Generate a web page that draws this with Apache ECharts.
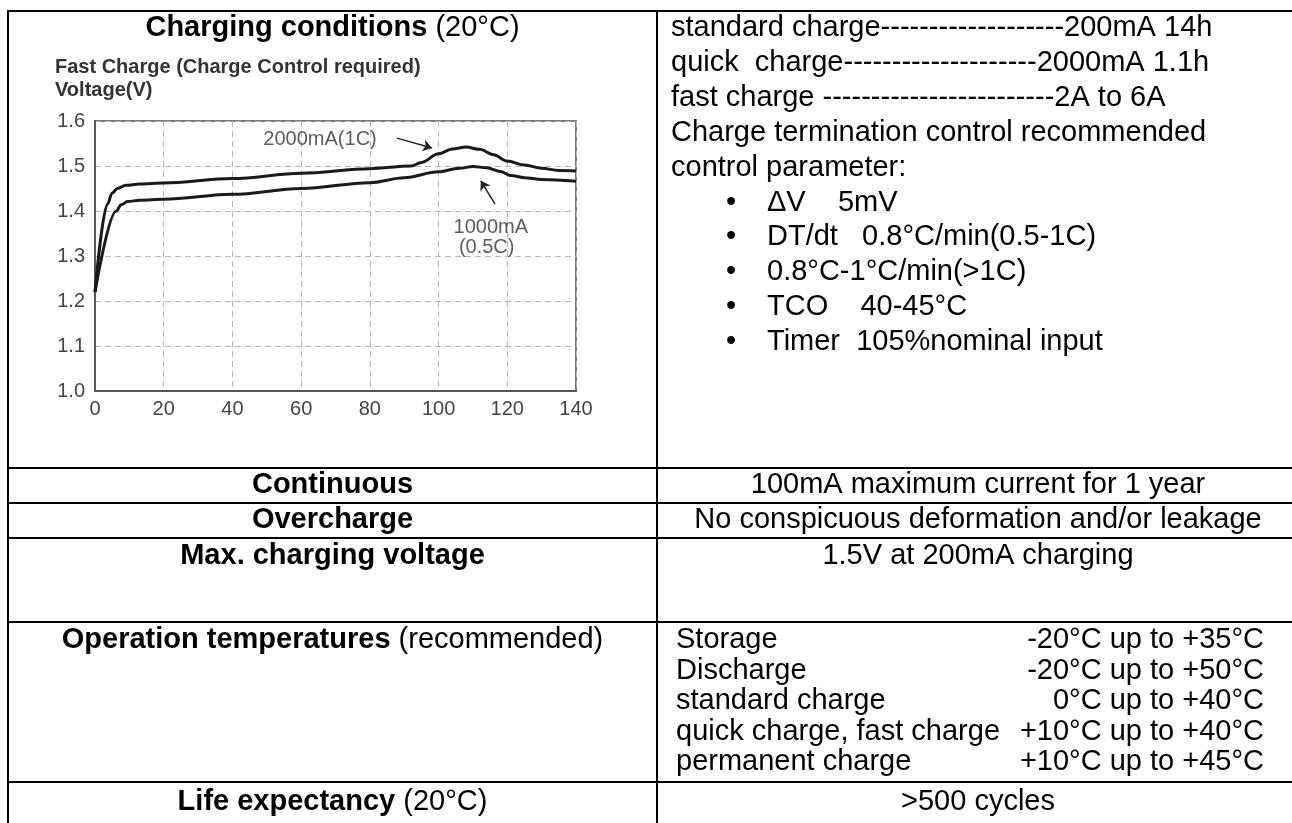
<!DOCTYPE html>
<html>
<head>
<meta charset="utf-8">
<script src="https://cdn.jsdelivr.net/npm/echarts@6/dist/echarts.min.js"></script>
<style>
html, body { margin: 0; padding: 0; background: #fff; }
#main { width: 1292px; height: 823px; }
</style>
</head>
<body>
<div id="main"></div>
<script>
//曲线数据 2000mA(1C)
var fastX = [0, 3.6, 5, 6.5, 9, 13, 20, 40, 60, 80, 92, 95, 100, 104, 108, 112, 116, 120, 125, 130, 135, 140];
var fastY = [1.22, 1.415, 1.44, 1.45, 1.457, 1.46, 1.462, 1.472, 1.484, 1.494, 1.50, 1.508, 1.527, 1.538, 1.542, 1.537, 1.525, 1.511, 1.502, 1.495, 1.49, 1.489];
//曲线数据 1000mA(0.5C)
var halfX = [0, 6.2, 7.6, 9.5, 13, 20, 40, 60, 80, 90, 100, 106, 110, 114, 118, 121, 125, 130, 140];
var halfY = [1.22, 1.40, 1.414, 1.421, 1.424, 1.426, 1.437, 1.45, 1.463, 1.474, 1.487, 1.495, 1.499, 1.496, 1.488, 1.479, 1.474, 1.47, 1.466];
//标注
var noteText = ['2000mA(1C)', '1000mA', '(0.5C)'];
var noteX = [65.5, 115.2, 114];
var noteY = [1.558, 1.364, 1.32];
var arrowFrom = [[87.9, 1.562], [116.4, 1.416]];
var arrowTo = [[98.1, 1.54], [112.3, 1.467]];

//表格文字
var specLines = [
    'standard charge-------------------200mA 14h',
    'quick  charge--------------------2000mA 1.1h',
    'fast charge ------------------------2A to 6A',
    'Charge termination control recommended',
    'control parameter:'
];
var bulletLines = ['\u0394V    5mV', 'DT/dt   0.8°C/min(0.5-1C)', '0.8°C-1°C/min(>1C)', 'TCO    40-45°C', 'Timer  105%nominal input'];
var rowNames = ['Continuous', 'Overcharge', 'Max. charging voltage'];
var rowValues = ['100mA maximum current for 1 year', 'No conspicuous deformation and/or leakage', '1.5V at 200mA charging'];
var tempNames = ['Storage', 'Discharge', 'standard charge', 'quick charge, fast charge', 'permanent charge'];
var tempRanges = ['-20°C up to +35°C', '-20°C up to +50°C', '0°C up to +40°C', '+10°C up to +40°C', '+10°C up to +45°C'];

var FONT = "'Liberation Sans', Arial, sans-serif";

function pairs(xs, ys) {
    return xs.map(function (x, i) { return [x, ys[i]]; });
}

function txt(text, x, y, opt) {
    opt = opt || {};
    return {
        type: 'text',
        silent: true,
        style: {
            text: text,
            x: x,
            y: y,
            fill: '#000',
            fontFamily: FONT,
            fontSize: opt.size || 29,
            fontWeight: opt.weight || 'normal',
            align: opt.align || 'left',
            textAlign: opt.align || 'left',
            verticalAlign: 'middle',
            textVerticalAlign: 'middle',
            rich: {
                b: {fontFamily: FONT, fontSize: opt.size || 29, fontWeight: 'bold', fill: '#000'},
                r: {fontFamily: FONT, fontSize: opt.size || 29, fontWeight: 'normal', fill: '#000'}
            }
        }
    };
}

function hline(y, x1, x2) {
    return {type: 'line', silent: true, shape: {x1: x1, y1: y, x2: x2, y2: y}, style: {stroke: '#000', lineWidth: 2}};
}

function vline(x, y1, y2) {
    return {type: 'line', silent: true, shape: {x1: x, y1: y1, x2: x, y2: y2}, style: {stroke: '#000', lineWidth: 2}};
}

var leftC = 332.5, rightC = 978, textL = 671;
var graphics = [];
// 表格线
graphics.push(hline(11, 8, 1292));
[468, 503, 538, 622, 782].forEach(function (y) { graphics.push(hline(y, 8, 1292)); });
graphics.push(vline(8, 10, 823));
graphics.push(vline(657, 10, 823));

// 第一行
graphics.push(txt('{b|Charging conditions}{r| (20°C)}', leftC, 28, {align: 'center'}));
specLines.forEach(function (s, i) { graphics.push(txt(s, textL, 28 + i * 34.9)); });
bulletLines.forEach(function (s, i) {
    var y = 28 + (i + 5) * 34.9;
    graphics.push(txt('\u2022', 726, y));
    graphics.push(txt(s, 767, y));
});
// 其他行
var rowY = [485, 520, 556];
rowNames.forEach(function (s, i) {
    graphics.push(txt(s, leftC, rowY[i], {align: 'center', weight: 'bold'}));
    graphics.push(txt(rowValues[i], rightC, rowY[i], {align: 'center'}));
});
graphics.push(txt('{b|Operation temperatures}{r| (recommended)}', leftC, 640, {align: 'center'}));
tempNames.forEach(function (s, i) {
    var y = 640 + i * 30.5;
    graphics.push(txt(s, 676, y));
    graphics.push(txt(tempRanges[i], 1264, y, {align: 'right'}));
});
graphics.push(txt('{b|Life expectancy}{r| (20°C)}', leftC, 802, {align: 'center'}));
graphics.push(txt('>500 cycles', rightC, 802, {align: 'center'}));

var myChart = echarts.init(document.getElementById('main'));
var option = {
    backgroundColor: '#fff',
    animation: false,
    title: [{
        text: 'Fast Charge (Charge Control required)',
        left: 55, top: 57, padding: 0,
        textStyle: {fontFamily: FONT, fontSize: 20, fontWeight: 'bold', color: '#333'}
    }, {
        text: 'Voltage(V)',
        left: 55, top: 80, padding: 0,
        textStyle: {fontFamily: FONT, fontSize: 20, fontWeight: 'bold', color: '#333'}
    }],
    grid: {
        left: 95, top: 121, width: 481, height: 270,
        show: true, borderColor: '#7a7a7a', borderWidth: 2, backgroundColor: 'transparent'
    },
    xAxis: {
        type: 'value', min: 0, max: 140, interval: 20,
        axisLine: {show: true, onZero: false, lineStyle: {color: '#555', width: 2}},
        axisTick: {show: false},
        axisLabel: {margin: 8, color: '#444', fontFamily: FONT, fontSize: 20},
        splitLine: {show: true, lineStyle: {color: '#b5b5b5', width: 1, type: [6, 4]}}
    },
    yAxis: {
        type: 'value', min: 1.0, max: 1.6, interval: 0.1,
        axisLine: {show: true, lineStyle: {color: '#555', width: 2}},
        axisTick: {show: false},
        axisLabel: {
            margin: 10, color: '#444', fontFamily: FONT, fontSize: 20,
            formatter: function (v) { return v.toFixed(1); }
        },
        splitLine: {show: true, lineStyle: {color: '#b5b5b5', width: 1, type: [6, 4]}}
    },
    graphic: graphics,
    series: [{
        name: '2000mA(1C)',
        type: 'line',
        data: pairs(fastX, fastY),
        symbol: 'none',
        smooth: 0.35,
        smoothMonotone: 'x',
        lineStyle: {color: '#1a1a1a', width: 3}
    }, {
        name: '1000mA(0.5C)',
        type: 'line',
        data: pairs(halfX, halfY),
        symbol: 'none',
        smooth: 0.35,
        smoothMonotone: 'x',
        lineStyle: {color: '#1a1a1a', width: 3}
    }, {
        type: 'lines',
        coordinateSystem: 'cartesian2d',
        silent: true,
        symbol: ['none', 'arrow'],
        symbolSize: 9,
        lineStyle: {color: '#222', width: 1.5, opacity: 1},
        data: arrowFrom.map(function (p, i) { return {coords: [p, arrowTo[i]]}; })
    }, {
        type: 'scatter',
        silent: true,
        symbolSize: 1,
        itemStyle: {color: 'rgba(0,0,0,0)'},
        label: {
            show: true, position: 'inside', color: '#333', fontFamily: FONT, fontSize: 20,
            formatter: function (p) { return p.data[2]; }
        },
        data: noteText.map(function (t, i) { return [noteX[i], noteY[i], t]; })
    }]
};
myChart.setOption(option);
</script>
</body>
</html>
